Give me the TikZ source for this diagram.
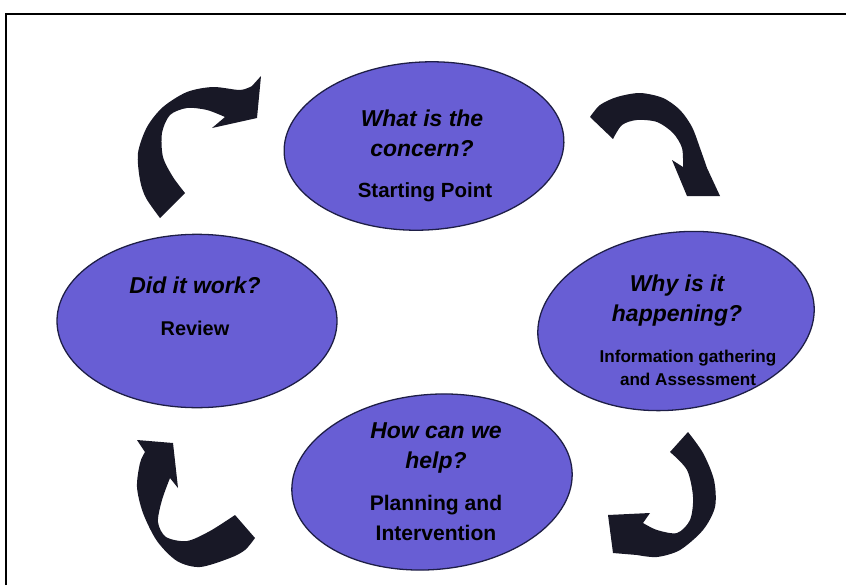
\documentclass[tikz,border=0pt]{standalone}
\usepackage{fontspec}
\setmainfont{Liberation Sans}
\usepackage{tikz}
\usetikzlibrary{shapes,shapes.geometric}
\definecolor{bubblefill}{RGB}{104,94,212}
\definecolor{bubbleline}{RGB}{30,30,70}
\definecolor{arrowcol}{RGB}{24,24,38}
\tikzset{
	bubble/.style={ellipse, draw=bubbleline, line width=1.1pt, fill=bubblefill, inner sep=0pt},
	quest/.style={align=center, font=\fontsize{19.6}{25.6}\selectfont\bfseries\itshape},
	sublabel/.style 2 args={align=center, font=\fontsize{#1}{#2}\selectfont\bfseries},
	bigarrow/.style={fill=arrowcol}
}
\begin{document}
\begin{tikzpicture}[x=0.03cm, y=-0.03cm]
			\useasboundingbox (0,0) rectangle (846,585);
			\draw[line width=2pt] (6,585) -- (6,14) -- (846,14);
			\node[bubble, minimum width=8.4cm, minimum height=5.04cm, rotate=3] (concern) at (424,146) {};
			\node[bubble, minimum width=8.34cm, minimum height=5.3cm, rotate=8] (why) at (676,321) {};
			\node[bubble, minimum width=8.4cm, minimum height=5.2cm] (review) at (197,321) {};
			\node[bubble, minimum width=8.43cm, minimum height=5.25cm, rotate=5] (help) at (432,482) {};
			\node[quest] (concernq) at (422,133) {What is the\\concern?};
			\node[sublabel={17.5}{22}] (concerns) at (425,192) {Starting Point};
			\node[quest] (whyq) at (677,301) {Why is it\\happening?};
			\node[sublabel={14.6}{19.6}] (whys) at (688,368) {Information gathering\\and Assessment};
			\node[quest] (reviewq) at (195,285) {Did it work?};
			\node[sublabel={17}{20}] (reviews) at (195,328) {Review};
			\node[quest] (helpq) at (436,448) {How can we\\help?};
			\node[sublabel={18}{25.6}] (helps) at (436,518) {Planning and\\Intervention};
			\fill[bigarrow] plot[smooth] coordinates {(160,218) (146,198) (140,180) (138,153) (147,127) (163,107) (187,92) (213,87) (240,90) (252,86)}
				-- (261,76) -- (257,118) -- (212,128) -- (225,117)
				-- plot[smooth] coordinates {(225,117) (207,110) (187,108) (170,115) (162,133) (163,157) (173,177) (185,193)} -- cycle;
			\fill[bigarrow] plot[smooth] coordinates {(590,117) (600,105) (617,97) (640,93) (663,98) (680,110) (692,127) (700,148) (707,168)}
				-- (720,196) -- (687,196) -- (672,160) -- (683,167)
				-- plot[smooth] coordinates {(683,167) (682,148) (673,133) (657,122) (637,120) (622,125) (613,139)} -- cycle;
			\fill[bigarrow] plot[smooth] coordinates {(688,432) (703,453) (714,480) (715,507) (703,530) (680,550) (657,557) (637,555)}
				-- (613,553) -- (608,515) -- (650,513) -- (643,523)
				-- plot[smooth] coordinates {(643,523) (657,530) (677,533) (690,520) (693,497) (687,470) (670,452)} -- cycle;
			\fill[bigarrow] plot[smooth] coordinates {(255,538) (245,550) (230,558) (200,567) (177,561) (157,541) (143,513) (137,487) (140,463) (145,452)}
				-- (137,440) -- (173,443) -- (178,488) -- (170,478)
				-- plot[smooth] coordinates {(170,478) (162,500) (158,522) (166,537) (187,541) (210,531) (235,515)} -- cycle;
\end{tikzpicture}
\end{document}
